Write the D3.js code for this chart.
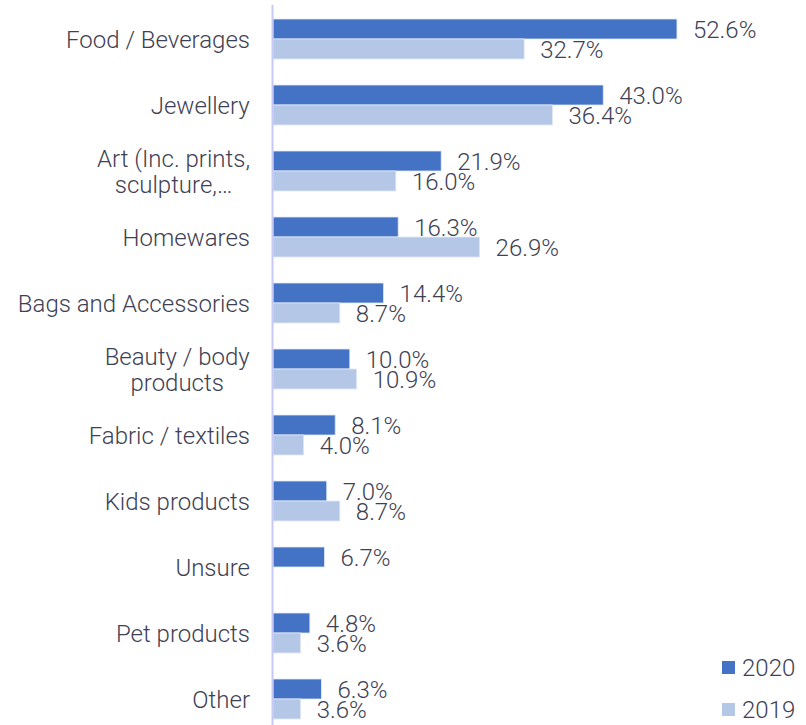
<!DOCTYPE html>
<html>
<head>
<meta charset="utf-8">
<script src="https://cdn.jsdelivr.net/npm/d3@7"></script>
<style>
  html, body { margin: 0; padding: 0; background: #ffffff; }
  svg { display: block; font-family: Roboto, "Noto Sans", sans-serif; }
</style>
</head>
<body>
<svg id="chart" width="806" height="725"></svg>
<script>
// Product categories, top to bottom
const categories = [
  ["Food / Beverages"],
  ["Jewellery"],
  ["Art (Inc. prints,", "sculpture,\u2026"],
  ["Homewares"],
  ["Bags and Accessories"],
  ["Beauty / body", "products"],
  ["Fabric / textiles"],
  ["Kids products"],
  ["Unsure"],
  ["Pet products"],
  ["Other"]
];
const seriesNames = ["2020", "2019"];
const values2020 = [52.6, 43.0, 21.9, 16.3, 14.4, 10.0, 8.1, 7.0, 6.7, 4.8, 6.3];
const values2019 = [32.7, 36.4, 16.0, 26.9, 8.7, 10.9, 4.0, 8.7, null, 3.6, 3.6];
const seriesColors = ["#4472c4", "#b4c7e7"];

const svg = d3.select("#chart");
const textColor = "#3e4153";
const fontSize = 24;

const keys = categories.map((c, i) => i);
const x = d3.scaleLinear().domain([0, 60]).range([273, 273 + 460.8]);
const y = d3.scaleBand().domain(keys).range([6, 732]);
const ySub = d3.scaleBand().domain(seriesNames).range([0, y.bandwidth()]).paddingOuter(0.65);

const rows = keys.map(i => ({
  i,
  label: categories[i],
  vals: [
    { s: "2020", v: values2020[i] },
    { s: "2019", v: values2019[i] }
  ].filter(d => d.v !== null)
}));

const g = svg.selectAll("g.row").data(rows).join("g")
  .attr("class", "row")
  .attr("transform", d => `translate(0,${y(d.i)})`);

// Bars
g.selectAll("rect").data(d => d.vals).join("rect")
  .attr("x", x(0))
  .attr("y", d => ySub(d.s))
  .attr("width", d => x(d.v) - x(0))
  .attr("height", ySub.bandwidth())
  .attr("fill", d => seriesColors[seriesNames.indexOf(d.s)])
  .attr("stroke", "#e2e9f6")
  .attr("stroke-width", 0.8);

// Value labels
g.selectAll("text.val").data(d => d.vals).join("text")
  .attr("class", "val")
  .attr("x", d => x(d.v) + 16)
  .attr("y", d => ySub(d.s) + ySub.bandwidth() / 2)
  .attr("dy", "0.36em")
  .attr("fill", textColor)
  .attr("font-size", fontSize)
  .attr("font-weight", 300)
  .text(d => d.v.toFixed(1) + "%");

// Category labels (wrapped lines centred on each other, block right-aligned)
const labelRight = 250;
const lineH = 26;
g.each(function (d) {
  const sel = d3.select(this);
  const t = sel.append("text")
    .attr("fill", textColor)
    .attr("font-size", fontSize)
    .attr("font-weight", 300)
    .attr("text-anchor", "middle");
  const n = d.label.length;
  d.label.forEach((line, k) => {
    t.append("tspan")
      .attr("x", 0)
      .attr("y", y.bandwidth() / 2 + (k - (n - 1) / 2) * lineH)
      .attr("dy", "0.36em")
      .text(line);
  });
  const w = t.node().getBBox().width;
  t.selectAll("tspan").attr("x", labelRight - w / 2);
});

// Category axis line
svg.append("line")
  .attr("x1", 272.5).attr("x2", 272.5)
  .attr("y1", 5).attr("y2", 725)
  .attr("stroke", "#c6c9f3")
  .attr("stroke-width", 2);

// Legend
const legend = svg.append("g");
const legY = d3.scaleOrdinal().domain(seriesNames).range([667.5, 709.5]);
seriesNames.forEach((s, k) => {
  legend.append("rect")
    .attr("x", 722).attr("y", legY(s) - 6.5)
    .attr("width", 13).attr("height", 13)
    .attr("fill", seriesColors[k]);
  legend.append("text")
    .attr("x", 742).attr("y", legY(s))
    .attr("dy", "0.36em")
    .attr("fill", textColor)
    .attr("font-size", fontSize)
    .attr("font-weight", 300)
    .text(s);
});
</script>
</body>
</html>
